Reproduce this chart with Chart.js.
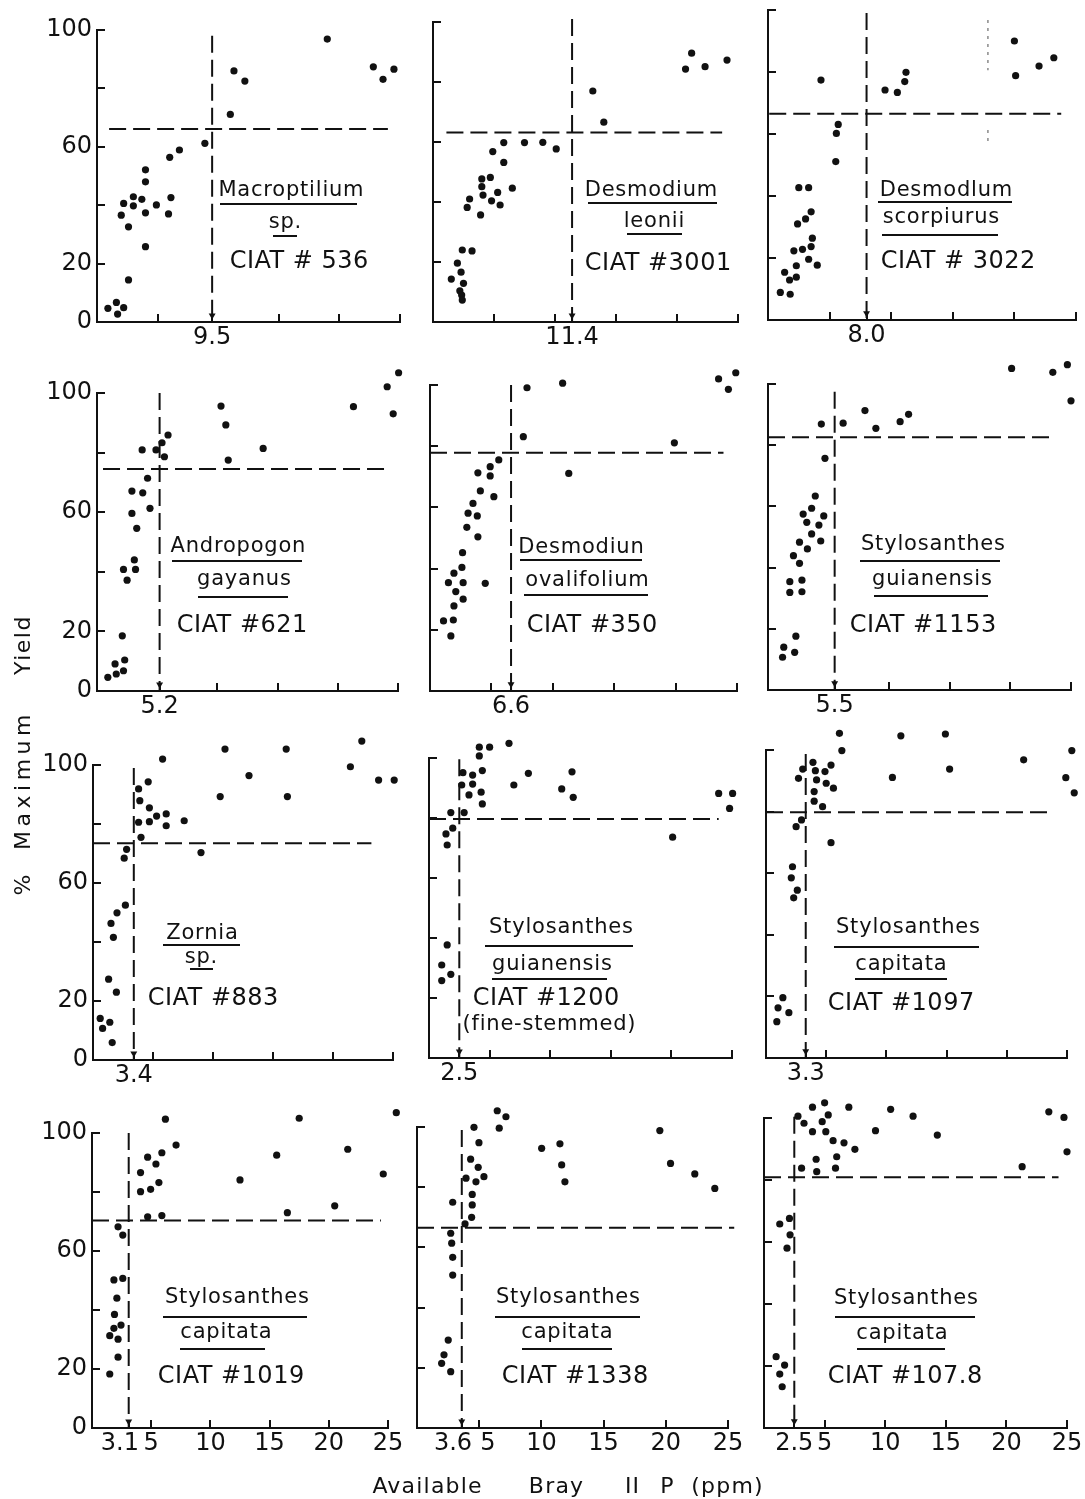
<!DOCTYPE html>
<html><head><meta charset="utf-8">
<script src="https://cdn.jsdelivr.net/npm/chart.js@4.4.1/dist/chart.umd.min.js"></script>
<style>
html,body{margin:0;padding:0;background:#fff;}
#page{position:relative;width:1085px;height:1499px;overflow:hidden;background:#fff;font-family:'DejaVu Sans',sans-serif;color:#111;}
canvas{position:absolute;}
.t{position:absolute;white-space:nowrap;line-height:1;color:#111;}
.u{position:absolute;height:0;border-top:2px solid #111;}
</style></head><body><div id="page"></div>
<script>
// ---------- DATA ----------
const macroptilium536 = [[0.9,4.7],[1.6,6.7],[1.7,2.7],[2.2,4.9],[2.6,14.4],[2.0,36.6],[2.2,40.6],[2.6,32.6],[3.0,42.9],[3.0,39.8],[3.7,42.0],[4.0,37.4],[4.0,48.0],[4.0,52.1],[4.0,25.8],[4.9,40.1],[5.9,37.0],[6.1,42.6],[6.0,56.4],[6.8,58.9],[8.9,61.2],[11.0,71.1],[11.3,86.0],[12.2,82.5],[19.0,96.9],[22.8,87.4],[23.6,83.1],[24.5,86.6]];
const leonii3001 = [[1.5,14.3],[2.0,19.6],[2.3,16.6],[2.5,12.9],[2.2,10.4],[2.35,9.0],[2.4,7.3],[2.4,24.0],[3.2,23.7],[2.8,38.2],[3.0,41.0],[3.9,35.7],[4.0,45.1],[4.0,47.7],[4.1,42.3],[4.7,48.2],[4.8,40.4],[5.3,43.2],[5.5,39.0],[4.9,56.8],[5.8,59.8],[5.8,53.2],[6.5,44.6],[7.5,59.8],[9.0,59.9],[10.1,57.7],[13.1,77.0],[14.0,66.6],[20.7,84.3],[21.2,89.6],[22.3,85.1],[24.1,87.3]];
const scorpiurus3022 = [[1.0,8.9],[1.8,8.3],[1.35,15.4],[1.75,12.9],[2.3,13.8],[2.3,17.5],[2.1,22.3],[2.8,22.8],[3.6,26.4],[3.5,23.7],[3.3,19.6],[4.0,17.7],[2.4,31.0],[3.05,32.6],[3.5,34.9],[2.5,42.7],[3.3,42.7],[5.5,51.1],[5.55,60.2],[5.7,63.1],[4.3,77.4],[9.5,74.2],[10.5,73.4],[11.1,76.9],[11.2,79.9],[20.0,90.0],[20.1,78.8],[22.0,81.9],[23.2,84.6]];
const andropogon621 = [[0.9,4.6],[1.6,5.7],[1.5,9.1],[2.3,10.4],[2.2,6.8],[2.1,18.5],[2.2,40.8],[2.5,37.2],[3.1,44.0],[3.2,40.8],[2.9,59.6],[3.3,54.6],[2.9,67.1],[3.8,66.5],[4.2,71.4],[4.4,61.3],[3.75,80.9],[4.9,80.9],[5.4,83.3],[5.6,78.6],[5.9,85.9],[10.3,95.6],[10.7,89.3],[10.9,77.5],[13.8,81.4],[21.3,95.4],[24.1,102.1],[24.6,93.0],[25.05,106.8]];
const ovalifolium350 = [[1.1,22.9],[1.7,18.0],[1.9,23.2],[1.95,27.8],[2.1,32.5],[1.5,35.4],[1.95,38.5],[2.7,30.0],[2.7,35.4],[2.6,40.4],[2.65,45.2],[4.5,35.2],[3.0,53.5],[3.1,58.1],[3.5,61.3],[3.85,57.2],[3.9,50.4],[4.1,65.4],[3.9,71.3],[4.9,73.3],[4.9,70.3],[5.2,63.5],[5.6,75.5],[7.6,83.1],[7.9,99.1],[10.8,100.6],[11.3,71.1],[19.9,81.1],[23.5,102.0],[24.3,98.6],[24.9,104.0]];
const guianensis1153 = [[1.2,10.7],[1.3,14.0],[2.2,12.3],[2.3,17.6],[1.8,31.9],[1.8,35.4],[2.8,32.1],[2.8,35.9],[2.1,43.9],[2.6,41.4],[2.6,48.3],[3.25,46.1],[2.9,57.5],[3.2,54.8],[3.6,59.4],[3.9,63.4],[3.6,51.0],[4.2,53.9],[4.35,48.7],[4.6,56.9],[4.7,75.7],[4.4,86.9],[6.2,87.2],[8.0,91.3],[8.9,85.5],[10.9,87.7],[11.6,90.1],[20.1,105.1],[23.5,103.8],[24.7,106.3],[25.0,94.5]];
const zornia883 = [[0.6,14.1],[0.8,10.7],[1.4,12.8],[1.6,5.9],[1.3,27.4],[1.95,23.0],[1.7,41.6],[1.5,46.3],[2.0,49.9],[2.7,52.5],[2.6,68.4],[2.8,71.4],[3.8,91.9],[3.9,87.9],[3.8,80.6],[4.0,75.5],[4.6,94.3],[4.7,85.5],[4.7,80.8],[5.3,82.7],[6.1,83.4],[6.1,79.4],[5.8,102.0],[7.6,81.1],[9.0,70.3],[10.6,89.3],[11.0,105.4],[13.0,96.4],[16.1,105.4],[16.2,89.3],[21.45,99.4],[22.4,108.1],[23.8,94.9],[25.1,94.9]];
const guianensis1200 = [[1.05,25.8],[1.05,31.0],[1.8,27.9],[1.5,37.7],[1.4,74.7],[1.5,71.0],[1.96,76.6],[1.8,81.8],[2.9,81.8],[2.7,91.0],[2.8,95.1],[3.3,87.7],[3.6,94.3],[3.6,91.3],[4.15,103.6],[4.15,100.7],[4.4,95.8],[4.3,88.6],[4.4,84.7],[5.0,103.6],[6.6,104.9],[7.0,91.0],[8.2,94.9],[10.95,89.7],[11.8,95.4],[11.9,86.9],[20.1,73.6],[23.9,88.2],[25.05,88.2],[24.8,83.2]];
const capitata1097 = [[0.9,11.8],[1.0,16.3],[1.4,19.6],[1.9,14.7],[2.1,58.5],[2.2,62.1],[2.3,52.0],[2.6,54.5],[2.5,75.1],[2.95,77.3],[2.7,90.8],[3.05,93.8],[3.9,96.0],[4.1,93.3],[4.2,90.3],[4.0,86.5],[4.0,83.4],[4.7,81.6],[4.9,93.0],[5.0,89.2],[5.4,95.1],[5.6,87.6],[6.1,105.4],[6.3,99.8],[5.4,69.9],[10.5,91.1],[11.2,104.6],[14.9,105.2],[15.25,93.8],[21.4,96.8],[24.9,91.0],[25.4,99.8],[25.6,86.1]];
const capitata1019 = [[1.5,18.3],[1.5,31.3],[1.85,50.2],[1.85,33.8],[1.9,38.5],[2.1,44.0],[2.2,30.1],[2.2,24.0],[2.45,34.9],[2.6,50.7],[2.2,68.2],[2.6,65.4],[4.1,86.6],[4.1,80.1],[4.7,91.8],[4.7,71.6],[4.95,80.9],[5.4,89.5],[5.65,83.2],[5.9,93.3],[5.9,72.0],[6.2,104.7],[7.1,95.9],[12.5,84.1],[15.6,92.5],[16.5,73.0],[17.5,105.0],[20.5,75.3],[21.6,94.5],[24.6,86.1],[25.7,106.9]];
const capitata1338 = [[1.98,21.5],[2.17,24.3],[2.51,29.2],[2.71,18.7],[2.87,50.8],[2.87,56.7],[2.79,61.4],[2.71,64.7],[2.87,75.0],[3.86,67.8],[4.39,70.0],[4.44,74.1],[4.44,77.6],[3.94,83.0],[4.74,81.8],[5.38,83.5],[4.31,89.3],[4.92,86.6],[4.58,99.9],[4.98,94.8],[6.45,105.4],[7.15,103.4],[6.61,99.6],[10.02,92.9],[11.49,94.4],[11.63,87.4],[11.89,81.8],[19.52,98.8],[20.38,87.9],[22.33,84.4],[23.94,79.6]];
const capitata1078 = [[1.0,23.0],[1.3,17.4],[1.5,13.3],[1.7,20.3],[1.3,65.8],[1.9,58.0],[2.1,67.6],[2.15,62.3],[2.8,100.6],[3.1,83.8],[3.3,98.3],[4.0,103.5],[4.0,95.6],[4.3,86.7],[4.35,82.7],[4.8,98.8],[5.0,104.9],[5.1,95.6],[5.3,101.0],[5.7,92.7],[6.0,87.5],[5.9,83.8],[6.6,92.0],[7.0,103.5],[7.5,89.9],[9.2,95.9],[10.45,102.8],[12.3,100.6],[14.3,94.5],[21.3,84.3],[23.5,102.0],[24.75,100.2],[25.0,89.1]];

const panelPoints = [macroptilium536, leonii3001, scorpiurus3022, andropogon621, ovalifolium350, guianensis1153, zornia883, guianensis1200, capitata1097, capitata1019, capitata1338, capitata1078];

// critical P level (vertical dashed line) and critical yield (horizontal dashed line)
const thresholdP    = [9.5, 11.4, 8.0, 5.2, 6.6, 5.5, 3.4, 2.5, 3.3, 3.1, 3.6, 2.5];
const thresholdTop  = [98, 101, 99, 100, 100, 97.5, 99, 99.6, 98.7, 100, 99, 100.4];
const criticalYield = [66.1, 63.2, 66.5, 74.5, 77.9, 82.6, 73.5, 79.7, 79.8, 70.3, 66.5, 80.9];
const critLineFrom  = [1.0, 1.1, 0.1, 0.5, 0, 0, 0, 0, 0, 0, 0, 0];
const critLineTo    = [24.0, 23.7, 23.8, 23.9, 23.9, 23.7, 23.2, 23.9, 23.5, 24.4, 25.5, 24.3];
const arrowYield = 2.2;
// faint dotted vertical stroke seen in the D. scorpiurus panel: [panel, x, yFrom, yTo]
const faintMarks = [[2, 17.85, 96.8, 80.6], [2, 17.85, 61.3, 57.1]];

const yTickValues = [0, 20, 40, 60, 80, 100];
const yTickLabels = [0, 20, 60, 100];
const xTickValues = [5, 10, 15, 20, 25];

const nameLine1 = ['Macroptilium','Desmodium','Desmodlum','Andropogon','Desmodiun','Stylosanthes','Zornia','Stylosanthes','Stylosanthes','Stylosanthes','Stylosanthes','Stylosanthes'];
const nameLine2 = ['sp.','leonii','scorpiurus','gayanus','ovalifolium','guianensis','sp.','guianensis','capitata','capitata','capitata','capitata'];
const accession = ['CIAT # 536','CIAT #3001','CIAT # 3022','CIAT #621','CIAT #350','CIAT #1153','CIAT #883','CIAT #1200','CIAT #1097','CIAT #1019','CIAT #1338','CIAT #107.8'];
const noteLine  = ['','','','','','','','(fine-stemmed)','','','',''];

// ---------- LAYOUT ----------
const frames = [
  {x0:97,  x25:400,  y100:30,   y0:322},
  {x0:433, x25:738,  y100:22,   y0:322},
  {x0:768, x25:1076, y100:10,   y0:320},
  {x0:97,  x25:398,  y100:393,  y0:691},
  {x0:430, x25:737,  y100:385,  y0:691},
  {x0:768, x25:1071, y100:384,  y0:690},
  {x0:93,  x25:393,  y100:765,  y0:1060},
  {x0:429, x25:732,  y100:758,  y0:1058},
  {x0:766, x25:1067, y100:750,  y0:1058},
  {x0:92,  x25:388,  y100:1133, y0:1428},
  {x0:417, x25:728,  y100:1127, y0:1428},
  {x0:764, x25:1067, y100:1118, y0:1428}
];
// label layout: [cx, baseline] for each line, underline [x1,x2,y]
const labelLayout = [
  {l1:[291,197],u1:[220,357,204],l2:[285,229],u2:[273,297,236],l3:[299,268]},
  {l1:[651,197],u1:[588,717,203],l2:[654,228],u2:[627,682,234],l3:[658,270]},
  {l1:[946,197],u1:[878,1012,202],l2:[941,224],u2:[882,998,235],l3:[958,268]},
  {l1:[238,553],u1:[172,302,561],l2:[244,586],u2:[198,288,597],l3:[242,632]},
  {l1:[581,554],u1:[520,642,560],l2:[587,587],u2:[524,648,595],l3:[592,632]},
  {l1:[933,551],u1:[860,1000,561],l2:[932,586],u2:[874,988,596],l3:[923,632]},
  {l1:[202,940],u1:[163,240,945],l2:[201,964],u2:[190,213,969],l3:[213,1005]},
  {l1:[561,934],u1:[485,633,946],l2:[552,971],u2:[492,607,979],l3:[546,1005],l4:[549,1031]},
  {l1:[908,934],u1:[834,979,947],l2:[901,971],u2:[855,947,979],l3:[901,1010]},
  {l1:[237,1304],u1:[163,307,1317],l2:[226,1339],u2:[180,265,1349],l3:[231,1383]},
  {l1:[568,1304],u1:[495,640,1317],l2:[567,1339],u2:[522,612,1349],l3:[575,1383]},
  {l1:[906,1305],u1:[835,975,1317],l2:[902,1340],u2:[857,945,1349],l3:[905,1383]}
];

const INK = '#111';
const FONT = "'DejaVu Sans', sans-serif";
const BLANK = '\u2800'; // invisible glyph used to nudge crowded tick labels apart
Chart.defaults.font.family = FONT;
const page = document.getElementById('page');

function makePanel(i) {
  const f = frames[i];
  const col = i % 3, row = Math.floor(i / 3);
  const padL = 60, padR = 30, padT = 40, padB = 42;
  const L = Math.round(f.x0), R = Math.round(f.x25);
  const T = Math.round(f.y100), B = Math.round(f.y0);
  const cv = document.createElement('canvas');
  cv.width = (R - L) + padL + padR;
  cv.height = (B - T) + padT + padB;
  cv.style.left = (L - padL) + 'px';
  cv.style.top = (T - padT) + 'px';
  cv.style.width = cv.width + 'px';
  cv.style.height = cv.height + 'px';
  page.appendChild(cv);
  const th = thresholdP[i];
  const pxPerUnit = (R - L) / 25;
  const gapPx = (5 - th) * pxPerUnit;
  const thPad = row === 3 && gapPx < 26 ? BLANK : '';
  const fivePad = row === 3 && gapPx < 20 ? BLANK : '';
  const datasets = [
    // transparent wide border only widens the visibility margin so points just beyond 100 / 25 still draw
    { data: panelPoints[i].map(([x, y]) => ({x, y})), pointRadius: 3.6, pointHoverRadius: 3.6,
      backgroundColor: INK, borderColor: 'rgba(0,0,0,0)', borderWidth: 26, clip: false },
    { type: 'line', data: [{x: th, y: thresholdTop[i]}, {x: th, y: 0}], borderColor: INK, borderWidth: 2,
      borderDash: [17, 7], pointRadius: 0, fill: false, clip: false },
    { type: 'line', data: [{x: critLineFrom[i], y: criticalYield[i]}, {x: critLineTo[i], y: criticalYield[i]}],
      borderColor: INK, borderWidth: 2, borderDash: [17, 7], pointRadius: 0, fill: false, clip: false },
    { data: [{x: th, y: arrowYield}], pointStyle: 'triangle', rotation: 180, pointRadius: 4,
      backgroundColor: INK, borderWidth: 0, clip: false }
  ];
  faintMarks.filter(m => m[0] === i).forEach(m => datasets.push(
    { type: 'line', data: [{x: m[1], y: m[2]}, {x: m[1], y: m[3]}], borderColor: '#8a8a8a', borderWidth: 1.5,
      borderDash: [3, 5], pointRadius: 0, fill: false, clip: false }));
  new Chart(cv.getContext('2d'), {
    type: 'scatter',
    data: { datasets },
    options: {
      responsive: false, animation: false, devicePixelRatio: 1, events: [],
      layout: { padding: { left: 0, right: padR, top: padT, bottom: 0 } },
      plugins: { legend: { display: false }, tooltip: { enabled: false } },
      scales: {
        x: {
          type: 'linear', min: 0, max: 25,
          afterFit: s => { s.height = padB; },
          afterBuildTicks: s => {
            const vals = [th].concat(xTickValues.filter(v => Math.abs(v - th) >= 1)).sort((a, b) => a - b);
            s.ticks = vals.map(v => ({value: v}));
          },
          ticks: {
            autoSkip: false, maxRotation: 0, minRotation: 0, padding: 9, color: INK,
            font: { size: 24, family: FONT },
            callback: v => {
              if (v === th) return th.toFixed(1) + thPad;
              if (row !== 3) return '';
              return (v === 5 ? fivePad : '') + String(v);
            }
          },
          grid: { drawOnChartArea: false, drawTicks: true, tickLength: -8, color: INK, lineWidth: 2 },
          border: { display: true, color: INK, width: 2 }
        },
        y: {
          type: 'linear', min: 0, max: 100,
          afterFit: s => { s.width = padL; },
          afterBuildTicks: s => { s.ticks = yTickValues.map(v => ({value: v})); },
          ticks: {
            autoSkip: false, padding: 13, color: INK, font: { size: 24, family: FONT },
            callback: v => (col === 0 && yTickLabels.includes(v) ? String(v) : '')
          },
          grid: { drawOnChartArea: false, drawTicks: true, tickLength: -8, color: INK, lineWidth: 2 },
          border: { display: true, color: INK, width: 2 }
        }
      }
    }
  });
}

function addText(s, cx, base, size, ls) {
  const d = document.createElement('div');
  d.className = 't';
  d.textContent = s;
  d.style.fontSize = size + 'px';
  d.style.letterSpacing = ls + 'px';
  d.style.top = (base - 0.846 * size) + 'px';
  d.style.left = (cx + ls / 2) + 'px';
  d.style.transform = 'translateX(-50%)';
  page.appendChild(d);
}
function addRule(x1, x2, y) {
  const d = document.createElement('div');
  d.className = 'u';
  d.style.left = x1 + 'px'; d.style.width = (x2 - x1) + 'px'; d.style.top = (y - 1) + 'px';
  page.appendChild(d);
}

for (let i = 0; i < 12; i++) {
  makePanel(i);
  const g = labelLayout[i];
  addText(nameLine1[i], g.l1[0], g.l1[1], 21, 0.8);
  addRule(g.u1[0], g.u1[1], g.u1[2]);
  addText(nameLine2[i], g.l2[0], g.l2[1], 21, 0.8);
  addRule(g.u2[0], g.u2[1], g.u2[2]);
  addText(accession[i], g.l3[0], g.l3[1], 24, 0.5);
  if (noteLine[i]) addText(noteLine[i], g.l4[0], g.l4[1], 21, 0.8);
}

// axis titles
function addVText(s, cx, cy, size, ls) {
  const d = document.createElement('div');
  d.className = 't';
  d.textContent = s;
  d.style.fontSize = size + 'px';
  d.style.letterSpacing = ls + 'px';
  d.style.left = cx + 'px';
  d.style.top = cy + 'px';
  d.style.transform = 'translate(-50%,-50%) rotate(-90deg)';
  page.appendChild(d);
}
addVText('%', 23, 885, 22, 0);
addVText('Maximum', 23, 780, 22, 4.5);
addVText('Yield', 23, 645, 22, 1.5);

const xTitleWords = ['Available', 'Bray', 'II', 'P', '(ppm)'];
const xTitleCenters = [427, 556, 632, 667, 727];
xTitleWords.forEach((w, k) => addText(w, xTitleCenters[k], 1494, 22, 1.2));
</script></body></html>
